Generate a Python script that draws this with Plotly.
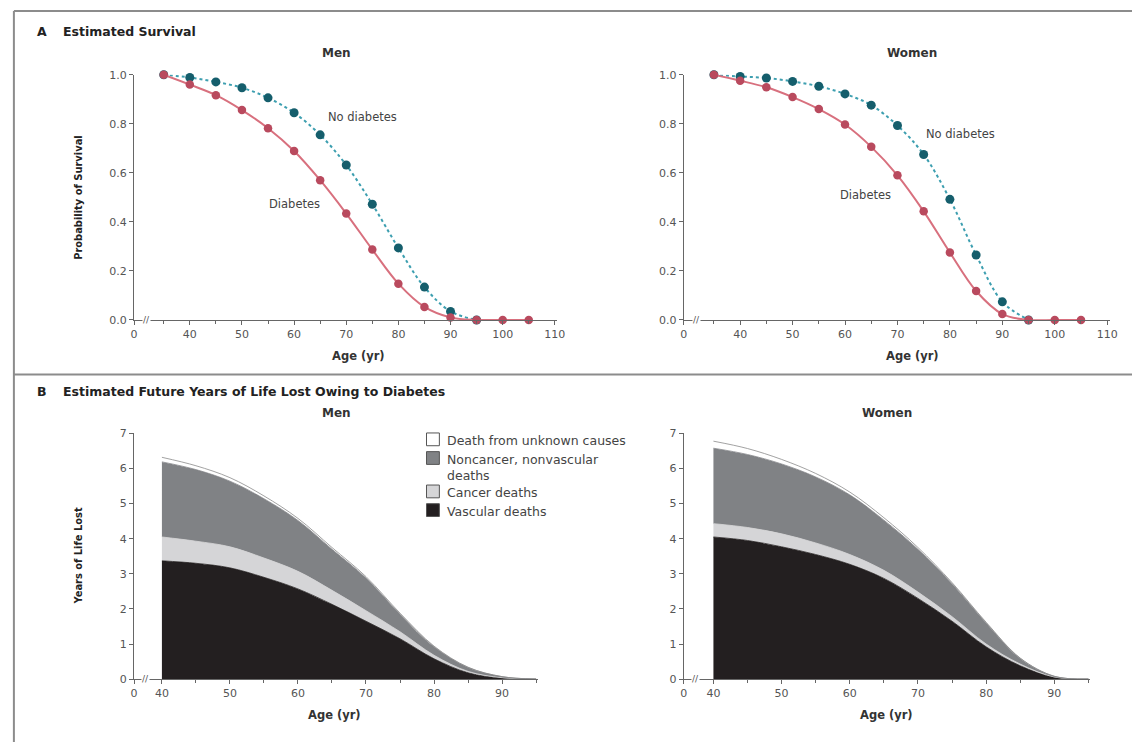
import plotly.graph_objects as go

W, H = 1140, 749

# ---------------- data ----------------
ages_surv = [35, 40, 45, 50, 55, 60, 65, 70, 75, 80, 85, 90, 95, 100, 105]
ages_nodm = [35, 40, 45, 50, 55, 60, 65, 70, 75, 80, 85, 90, 95]

men_diab = [1.0, 0.96, 0.917, 0.856, 0.782, 0.689, 0.57, 0.434, 0.287, 0.148, 0.053, 0.01, 0.0, 0.0, 0.0]
men_nodiab = [1.0, 0.989, 0.971, 0.947, 0.906, 0.845, 0.755, 0.632, 0.472, 0.294, 0.134, 0.035, 0.0]
women_diab = [1.0, 0.976, 0.949, 0.909, 0.86, 0.797, 0.706, 0.59, 0.443, 0.275, 0.118, 0.024, 0.0, 0.0, 0.0]
women_nodiab = [1.0, 0.993, 0.987, 0.973, 0.953, 0.922, 0.876, 0.793, 0.675, 0.492, 0.265, 0.074, 0.0]

ages_yll = [40, 45, 50, 55, 60, 65, 70, 75, 80, 85, 90, 95]
# men, per-cause years of life lost (layer thickness)
men_vascular = [3.37, 3.30, 3.17, 2.90, 2.57, 2.13, 1.65, 1.15, 0.58, 0.18, 0.03, 0.0]
men_cancer = [0.68, 0.63, 0.60, 0.55, 0.50, 0.40, 0.30, 0.20, 0.10, 0.04, 0.01, 0.0]
men_noncancer = [2.14, 2.04, 1.87, 1.69, 1.45, 1.17, 0.93, 0.50, 0.24, 0.11, 0.03, 0.0]
men_unknown = [0.13, 0.11, 0.10, 0.08, 0.06, 0.05, 0.04, 0.03, 0.02, 0.01, 0.0, 0.0]
# women
women_vascular = [4.05, 3.95, 3.77, 3.55, 3.27, 2.87, 2.30, 1.65, 0.92, 0.38, 0.05, 0.0]
women_cancer = [0.38, 0.37, 0.37, 0.33, 0.28, 0.23, 0.18, 0.13, 0.08, 0.05, 0.01, 0.0]
women_noncancer = [2.15, 2.08, 1.99, 1.88, 1.70, 1.43, 1.22, 0.94, 0.60, 0.16, 0.02, 0.0]
women_unknown = [0.20, 0.17, 0.13, 0.10, 0.08, 0.07, 0.05, 0.03, 0.02, 0.01, 0.0, 0.0]

cause_names = ["Vascular deaths", "Cancer deaths", "Noncancer, nonvascular deaths", "Death from unknown causes"]
cause_colors = ["#231f20", "#d5d5d7", "#808285", "#ffffff"]
cause_lines = ["#231f20", "#d5d5d7", "#808285", "#8a8a8a"]

surv_ticks = [40, 50, 60, 70, 80, 90, 100, 110]
yll_ticks = [40, 50, 60, 70, 80, 90]

RED_M, RED_L = "#b94a5e", "#d8707e"
TEAL_M, TEAL_L = "#155e6c", "#3d9fb0"
FONT = "DejaVu Sans"
COND = "DejaVu Sans Condensed, DejaVu Sans"
TICKC = "#555555"


def xd(a, b):
    return [a / W, b / W]


def yd(top, bottom):
    return [(H - bottom) / H, (H - top) / H]


fig = go.Figure()

# ---------------- Panel A ----------------
for i, (dm, nodm) in enumerate([(men_diab, men_nodiab), (women_diab, women_nodiab)]):
    xa = "x" if i == 0 else "x2"
    ya = "y" if i == 0 else "y2"
    fig.add_trace(go.Scatter(x=ages_nodm, y=nodm, xaxis=xa, yaxis=ya, mode="lines+markers",
                             line=dict(color=TEAL_L, width=2, dash="dot", shape="spline"),
                             marker=dict(color=TEAL_M, size=9), cliponaxis=False, showlegend=False))
    fig.add_trace(go.Scatter(x=ages_surv, y=dm, xaxis=xa, yaxis=ya, mode="lines+markers",
                             line=dict(color=RED_L, width=2, shape="spline"),
                             marker=dict(color=RED_M, size=8.5), cliponaxis=False, showlegend=False))

# ---------------- Panel B ----------------
for i, layers in enumerate([(men_vascular, men_cancer, men_noncancer, men_unknown),
                            (women_vascular, women_cancer, women_noncancer, women_unknown)]):
    xa = "x3" if i == 0 else "x4"
    ya = "y3" if i == 0 else "y4"
    for vals, name, fc, lc in zip(layers, cause_names, cause_colors, cause_lines):
        fig.add_trace(go.Scatter(x=ages_yll, y=vals, xaxis=xa, yaxis=ya, mode="lines",
                                 stackgroup="s%d" % i, fillcolor=fc,
                                 line=dict(color=lc, width=0.8, shape="spline", smoothing=1.0),
                                 name=name, showlegend=False))

axis_common = dict(showline=True, linecolor="#666666", linewidth=1, ticks="outside", ticklen=4,
                   tickcolor="#666666", showgrid=False, zeroline=False,
                   tickfont=dict(family=FONT, size=11, color=TICKC))

s_left_m, s_left_w = 29.3, 29.25
b_left_m, b_left_w = 35.9, 35.65

fig.update_layout(
    width=W, height=H, margin=dict(l=0, r=0, t=0, b=0),
    paper_bgcolor="white", plot_bgcolor="white",
    xaxis=dict(domain=xd(131.4, 559.3), range=[s_left_m, 110.5], anchor="y",
               tickvals=[s_left_m] + surv_ticks, ticktext=["0"] + [str(v) for v in surv_ticks],
               minor=dict(tickvals=[35, 45, 55, 65, 75, 85, 95, 105], ticks="outside", ticklen=3, tickcolor="#666666"),
               **axis_common),
    yaxis=dict(domain=yd(70, 319.5), range=[0, 1], anchor="x", tickvals=[0, 0.2, 0.4, 0.6, 0.8, 1.0],
               ticktext=["0.0", "0.2", "0.4", "0.6", "0.8", "1.0"], **axis_common),
    xaxis2=dict(domain=xd(687, 1117.6), range=[s_left_w, 110.5], anchor="y2",
                tickvals=[s_left_w] + surv_ticks, ticktext=["0"] + [str(v) for v in surv_ticks],
                minor=dict(tickvals=[35, 45, 55, 65, 75, 85, 95, 105], ticks="outside", ticklen=3, tickcolor="#666666"),
                **axis_common),
    yaxis2=dict(domain=yd(70, 319.5), range=[0, 1], anchor="x2", tickvals=[0, 0.2, 0.4, 0.6, 0.8, 1.0],
                ticktext=["0.0", "0.2", "0.4", "0.6", "0.8", "1.0"], **axis_common),
    xaxis3=dict(domain=xd(131.4, 539.8), range=[b_left_m, 95.3], anchor="y3",
                tickvals=[b_left_m] + yll_ticks, ticktext=["0"] + [str(v) for v in yll_ticks],
                minor=dict(tickvals=[45, 55, 65, 75, 85, 95], ticks="outside", ticklen=3, tickcolor="#666666"),
                **axis_common),
    yaxis3=dict(domain=yd(435, 685), range=[0, 7], anchor="x3", tickvals=list(range(8)), **axis_common),
    xaxis4=dict(domain=xd(687, 1098), range=[b_left_w, 95.3], anchor="y4",
                tickvals=[b_left_w] + yll_ticks, ticktext=["0"] + [str(v) for v in yll_ticks],
                minor=dict(tickvals=[45, 55, 65, 75, 85, 95], ticks="outside", ticklen=3, tickcolor="#666666"),
                **axis_common),
    yaxis4=dict(domain=yd(435, 685), range=[0, 7], anchor="x4", tickvals=list(range(8)), **axis_common),
)

ann = []
shapes = []


def ptext(x, y, text, size=11, bold=False, color="#333333", xanchor="center", angle=0, family=FONT):
    t = "<b>%s</b>" % text if bold else text
    ann.append(dict(x=x / W, y=(H - y) / H, xref="paper", yref="paper", text=t, showarrow=False,
                    xanchor=xanchor, yanchor="middle", textangle=angle,
                    font=dict(family=family, size=size, color=color)))


# panel titles
ptext(31, 26, "A", 12.5, True, "#222222", "left")
ptext(58, 26, "Estimated Survival", 12.5, True, "#222222", "left")
ptext(31, 392, "B", 12.5, True, "#222222", "left")
ptext(58, 392, "Estimated Future Years of Life Lost Owing to Diabetes", 12.5, True, "#222222", "left")
# subplot titles
ptext(336, 48, "Men", 12, True, "#333333")
ptext(918, 48, "Women", 12, True, "#333333")
ptext(336, 414, "Men", 12, True, "#333333")
ptext(892, 414, "Women", 12, True, "#333333")
# axis titles
ptext(358, 356, "Age (yr)", 11.5, True, "#333333")
ptext(918, 356, "Age (yr)", 11.5, True, "#333333")
ptext(334, 722, "Age (yr)", 11.5, True, "#333333")
ptext(892, 722, "Age (yr)", 11.5, True, "#333333")
ptext(75, 195, "<b>Probability of Survival</b>", 11, False, "#222222", "center", -90, COND)
ptext(75, 560, "<b>Years of Life Lost</b>", 11, False, "#222222", "center", -90, COND)

# curve labels (data coords)
for xa, ya, x, y, t in [("x", "y", 73.1, 0.828, "No diabetes"), ("x", "y", 60.0, 0.472, "Diabetes"),
                        ("x2", "y2", 82.1, 0.76, "No diabetes"), ("x2", "y2", 64.0, 0.508, "Diabetes")]:
    ann.append(dict(x=x, y=y, xref=xa, yref=ya, text=t, showarrow=False,
                    font=dict(family=FONT, size=11.5, color="#444444")))

# axis-break marks
for xa, ya, xb in [("x", "y", 31.7), ("x2", "y2", 31.7), ("x3", "y3", 37.6), ("x4", "y4", 37.4)]:
    ann.append(dict(x=xb, y=0, xref=xa, yref=ya, text="//", showarrow=False,
                    font=dict(family=FONT, size=9, color="#555555"), bgcolor="white", borderpad=0))

# legend (manual)
leg_rows = [(441, "Death from unknown causes", 3), (460, "Noncancer, nonvascular<br>deaths", 2),
            (494, "Cancer deaths", 1), (513, "Vascular deaths", 0)]
for y, text, ci in leg_rows:
    shapes.append(dict(type="rect", xref="paper", yref="paper", x0=427 / W, x1=440 / W,
                       y0=(H - (y + 6.5)) / H, y1=(H - (y - 6.5)) / H,
                       fillcolor=cause_colors[ci], line=dict(color="#555555", width=1)))
    ann.append(dict(x=446 / W, y=(H - (y - 8.5)) / H, xref="paper", yref="paper", text=text, showarrow=False,
                    xanchor="left", yanchor="top", align="left",
                    font=dict(family=FONT, size=12.5, color="#444444")))

# frame lines
for x0, y0, x1, y1 in [(10, 5, 1140, 5), (10, 5, 10, 749), (10, 375, 1140, 375)]:
    shapes.append(dict(type="line", xref="paper", yref="paper", x0=x0 / W, x1=x1 / W,
                       y0=(H - y0) / H, y1=(H - y1) / H, line=dict(color="#8c8c8c", width=2)))

fig.update_layout(annotations=ann, shapes=shapes)
fig.write_html("out.html")
